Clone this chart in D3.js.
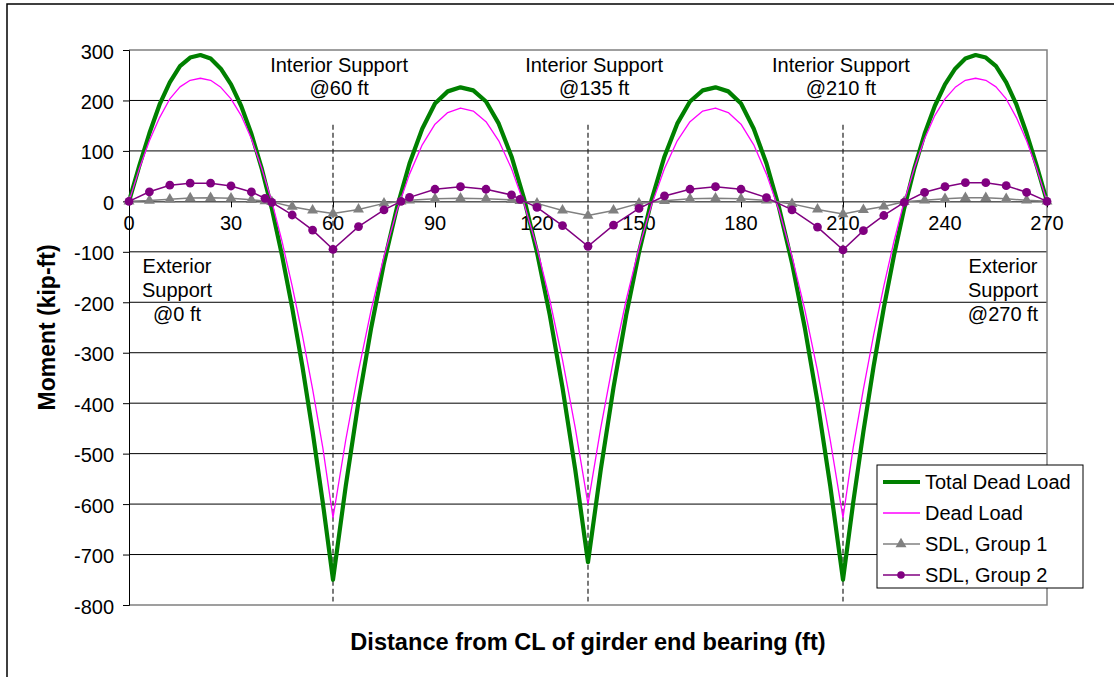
<!DOCTYPE html>
<html>
<head>
<meta charset="utf-8">
<script src="https://cdn.jsdelivr.net/npm/d3@7"></script>
<style>
  html, body { margin: 0; padding: 0; background: #fff; }
  svg { display: block; font-family: "Liberation Sans", Arial, sans-serif; }
</style>
</head>
<body>
<svg id="chart" width="1114" height="677"></svg>
<script>
// ---------------- DATA ----------------
const distance = [
  0,3,6,9,12,15,18,21,24,27,30,33,36,39,42,45,48,51,54,57,60,
  63.75,67.5,71.25,75,78.75,82.5,86.25,90,93.75,97.5,101.25,105,108.75,112.5,116.25,120,123.75,127.5,131.25,135,
  138.75,142.5,146.25,150,153.75,157.5,161.25,165,168.75,172.5,176.25,180,183.75,187.5,191.25,195,198.75,202.5,206.25,210,
  213,216,219,222,225,228,231,234,237,240,243,246,249,252,255,258,261,264,267,270
];
const totalDeadLoad = [
  0,70,135,192,236,268,285,290,283,263,232,189,134,66,-14,-107,-211,-327,-456,-597,-750,
  -564,-397,-250,-122,-14,75,144,194,218,226,220,198,154,89,4,-101,-225,-369,-532,-715,
  -532,-369,-225,-101,4,89,154,198,220,226,218,194,144,75,-14,-122,-250,-397,-564,-750,
  -597,-456,-327,-211,-107,-14,66,134,189,232,263,283,290,285,268,236,192,135,70,0
];
const deadLoad = [
  0,64,120,166,203,227,240,244,240,226,203,170,124,66,0,-79,-168,-265,-372,-488,-627,
  -473,-336,-214,-109,-19,54,112,153,176,185,179,158,120,65,-6,-92,-195,-314,-449,-600,
  -449,-314,-195,-92,-6,65,120,158,179,185,176,153,112,54,-19,-109,-214,-336,-473,-627,
  -488,-372,-265,-168,-79,0,66,124,170,203,226,240,244,240,227,203,166,120,64,0
];
const sdlDistance = [
  0,6,12,18,24,30,36,40,42,48,54,60,
  67.5,75,80,82.5,90,97.5,105,112.5,115,120,127.5,135,
  142.5,150,157.5,165,172.5,180,187.5,195,202.5,210,
  216,222,228,234,240,246,252,258,264,270
];
const sdlGroup1 = [
  0,1.5,4,6.5,7,6,3,0.5,-1,-10.5,-18,-24,
  -16,-4,0,2,5,6,5,3,1,-4,-18,-28,
  -18,-4,1,5,6,5,2,-5,-16,-25,
  -17,-10,-1,2,5,7,7,5,2,0
];
const sdlGroup2 = [
  0,19,32,36,36,30.5,18.6,6,-2,-27,-57,-95,
  -50,-17,0,8,24,29,24,12.7,4,-12,-48,-89,
  -47,-14,10.7,24,29,24,7.4,-17,-51,-96,
  -58,-28,-2,18,29,37,37,31,18,0
];
const xTicks = [0,30,60,90,120,150,180,210,240,270];
const yTicks = [300,200,100,0,-100,-200,-300,-400,-500,-600,-700,-800];
const interiorSupports = [60,135,210];
const interiorLabels = [["Interior Support","@60 ft"],["Interior Support","@135 ft"],["Interior Support","@210 ft"]];
const exteriorLabels = [["Exterior","Support","@0 ft"],["Exterior","Support","@270 ft"]];
const seriesNames = ["Total Dead Load","Dead Load","SDL, Group 1","SDL, Group 2"];
const xTitle = "Distance from CL of girder end bearing (ft)";
const yTitle = "Moment (kip-ft)";

// ---------------- LAYOUT ----------------
const svg = d3.select("#chart");
const L = 129, R = 1047, T = 50, B = 605;
const x = d3.scaleLinear().domain([0,270]).range([L,R]);
const y = d3.scaleLinear().domain([-800,300]).range([B,T]);
const FONT = 20;

// outer frame
svg.append("rect").attr("x",7).attr("y",4).attr("width",1300).attr("height",900)
  .attr("fill","#fff").attr("stroke","#000").attr("stroke-width",1.5);

// gridlines
svg.append("g").selectAll("line").data(yTicks.filter(v => v !== 300 && v !== -800 && v !== 0))
  .join("line")
  .attr("x1",L).attr("x2",R).attr("y1",d=>y(d)).attr("y2",d=>y(d))
  .attr("stroke","#000").attr("stroke-width",1);

// plot border (top, right, bottom)
svg.append("path")
  .attr("d",`M${L},${y(300)}H${R}V${y(-800)}H${L}`)
  .attr("fill","none").attr("stroke","#808080").attr("stroke-width",1.5);

// y axis
const yAxis = svg.append("g").attr("transform",`translate(${L},0)`)
  .call(d3.axisLeft(y).tickValues(yTicks).tickSize(6).tickFormat(""));
yAxis.select(".domain").attr("stroke","#000");
yAxis.selectAll(".tick line").attr("stroke","#000");
svg.append("g").selectAll("text").data(yTicks).join("text")
  .attr("x",114).attr("y",d=>y(d)+1.5).attr("dy","0.35em")
  .attr("text-anchor","end").attr("font-size",FONT).attr("fill","#000")
  .text(d=>d);

// x axis at zero
const xAxis = svg.append("g").attr("transform",`translate(0,${y(0)})`)
  .call(d3.axisBottom(x).tickValues(xTicks).tickSize(6).tickSizeOuter(0).tickFormat(""));
xAxis.select(".domain").attr("stroke","#000");
xAxis.selectAll(".tick line").attr("stroke","#000");
svg.append("g").selectAll("text").data(xTicks).join("text")
  .attr("x",d=>x(d)).attr("y",y(0)+22).attr("dy","0.35em")
  .attr("text-anchor","middle").attr("font-size",FONT).attr("fill","#000")
  .text(d=>d);

// dashed support lines
svg.append("g").selectAll("line").data(interiorSupports).join("line")
  .attr("x1",d=>x(d)).attr("x2",d=>x(d))
  .attr("y1",y(152)).attr("y2",y(-793))
  .attr("stroke","#222").attr("stroke-width",1.2).attr("stroke-dasharray","5,3");

// annotations
const annOffsets = [1.8, 1.8, -0.6];
interiorLabels.forEach((lines,i)=>{
  const t = svg.append("text").attr("text-anchor","middle").attr("font-size",FONT).attr("fill","#000");
  lines.forEach((s,j)=>{
    t.append("tspan").attr("x",x(interiorSupports[i]+annOffsets[i])).attr("y",71.5+j*23.5).text(s);
  });
});
const extX = [x(0)+48, x(270)-44];
exteriorLabels.forEach((lines,i)=>{
  const t = svg.append("text").attr("text-anchor","middle").attr("font-size",FONT).attr("fill","#000");
  lines.forEach((s,j)=>{
    t.append("tspan").attr("x",extX[i]).attr("y",273+j*24).text(s);
  });
});

// series
const line = d3.line().x(d=>x(d[0])).y(d=>y(d[1]));
const tdl = distance.map((d,i)=>[d,totalDeadLoad[i]]);
const dl = distance.map((d,i)=>[d,deadLoad[i]]);
const g1 = sdlDistance.map((d,i)=>[d,sdlGroup1[i]]);
const g2 = sdlDistance.map((d,i)=>[d,sdlGroup2[i]]);

svg.append("path").datum(tdl).attr("d",line).attr("fill","none")
  .attr("stroke","#008000").attr("stroke-width",4.2).attr("stroke-linejoin","round");
svg.append("path").datum(dl).attr("d",line).attr("fill","none")
  .attr("stroke","#FF00FF").attr("stroke-width",1.3).attr("stroke-linejoin","round");
svg.append("path").datum(g1).attr("d",line).attr("fill","none")
  .attr("stroke","#808080").attr("stroke-width",1.5);
const tri = d3.symbol().type(d3.symbolTriangle).size(52);
svg.append("g").selectAll("path").data(g1).join("path")
  .attr("d",tri).attr("transform",d=>`translate(${x(d[0])},${y(d[1])})`)
  .attr("fill","#808080");
svg.append("path").datum(g2).attr("d",line).attr("fill","none")
  .attr("stroke","#800080").attr("stroke-width",1.5);
svg.append("g").selectAll("circle").data(g2).join("circle")
  .attr("cx",d=>x(d[0])).attr("cy",d=>y(d[1])).attr("r",4.4)
  .attr("fill","#800080");

// legend
const lg = svg.append("g");
lg.append("rect").attr("x",877).attr("y",465).attr("width",206).attr("height",123)
  .attr("fill","#fff").attr("stroke","#000").attr("stroke-width",1);
const rowsY = [482,513,544,575];
const legStyles = [
  {c:"#008000", w:4, m:null},
  {c:"#FF00FF", w:1.3, m:null},
  {c:"#808080", w:1.5, m:"tri"},
  {c:"#800080", w:1.5, m:"circ"}
];
seriesNames.forEach((name,i)=>{
  const st = legStyles[i], yy = rowsY[i];
  lg.append("line").attr("x1",883).attr("x2",920).attr("y1",yy).attr("y2",yy)
    .attr("stroke",st.c).attr("stroke-width",st.w);
  if (st.m==="tri") lg.append("path").attr("d",tri).attr("transform",`translate(901,${yy})`).attr("fill",st.c);
  if (st.m==="circ") lg.append("circle").attr("cx",901).attr("cy",yy).attr("r",3.8).attr("fill",st.c);
  lg.append("text").attr("x",925).attr("y",yy).attr("dy","0.35em")
    .attr("font-size",FONT).attr("fill","#000").text(name);
});

// axis titles
svg.append("text").attr("x",(L+R)/2).attr("y",649.5).attr("text-anchor","middle")
  .attr("font-size",23.6).attr("font-weight","bold").attr("fill","#000").text(xTitle);
svg.append("text").attr("transform",`translate(55,${(T+B)/2}) rotate(-90)`)
  .attr("text-anchor","middle").attr("font-size",23).attr("font-weight","bold").attr("fill","#000").text(yTitle);
</script>
</body>
</html>
